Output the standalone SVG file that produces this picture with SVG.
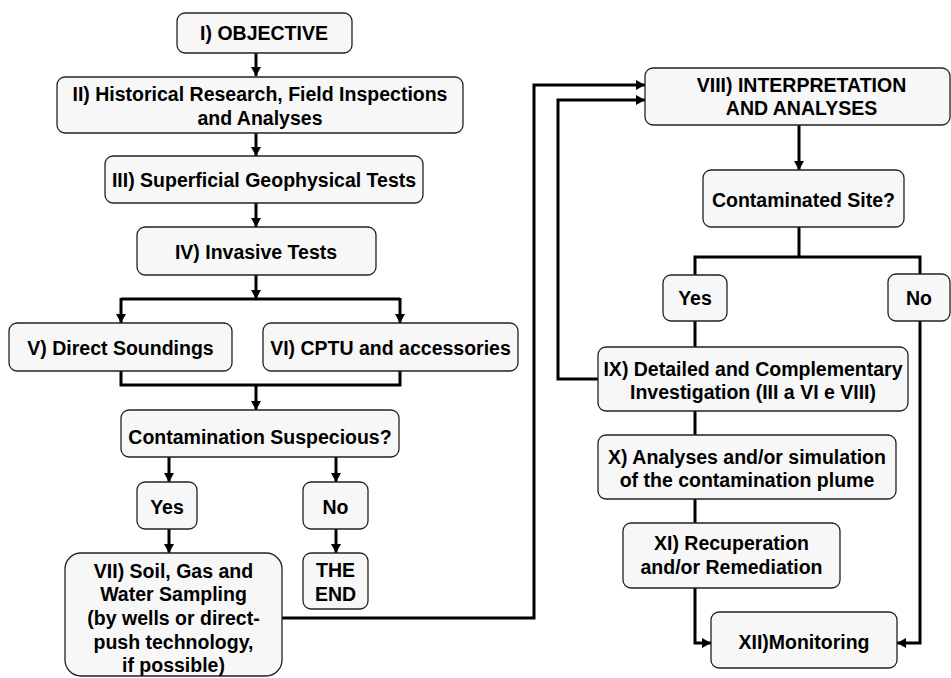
<svg xmlns="http://www.w3.org/2000/svg" width="951" height="678" viewBox="0 0 951 678">
<style>
.b{fill:#f7f7f7;stroke:#222;stroke-width:1.3}
.t{font-family:"Liberation Sans",Arial,sans-serif;font-weight:bold;font-size:19.5px;fill:#000;text-anchor:middle}
.c{fill:none;stroke:#000;stroke-width:3}
.a{marker-end:url(#ah)}
</style>
<defs>
<marker id="ah" viewBox="0 0 9 10" markerWidth="9" markerHeight="10" refX="9" refY="5" orient="auto" markerUnits="userSpaceOnUse">
<path d="M0,0 L9,5 L0,10 z" fill="#000"/>
</marker>
</defs>
<rect width="951" height="678" fill="#fff"/>
<g id="connectors">
<path class="c a" d="M256,53 V76"/>
<path class="c a" d="M256,133 V156"/>
<path class="c a" d="M256,203 V227"/>
<path class="c a" d="M256,275 V299"/>
<path class="c" d="M121,299 H400"/>
<path class="c a" d="M121,298 V323"/>
<path class="c a" d="M400,298 V323"/>
<path class="c" d="M121,371 V385 H400 V371"/>
<path class="c a" d="M256,385 V410"/>
<path class="c a" d="M169,457 V482"/>
<path class="c a" d="M336,457 V482"/>
<path class="c a" d="M169,529 V553"/>
<path class="c a" d="M336,529 V553"/>
<path class="c a" d="M282,618 H534 V85 H645"/>
<path class="c a" d="M598,379 H558 V100 H645"/>
<path class="c a" d="M799,125 V170"/>
<path class="c" d="M799,227 V257"/>
<path class="c" d="M695,275 V257 H920 V274"/>
<path class="c" d="M695,321 V347"/>
<path class="c a" d="M920,321 V643 H897"/>
<path class="c" d="M695,411 V435"/>
<path class="c" d="M695,499 V523"/>
<path class="c a" d="M695,588 V643 H711"/>
</g>
<g id="n1"><rect class="b" x="177" y="13" width="175" height="40" rx="8"/><text class="t" x="264" y="40">I) OBJECTIVE</text></g>
<g id="n2"><rect class="b" x="57" y="77" width="406" height="56" rx="8"/><text class="t" x="260" y="101">II) Historical Research, Field Inspections</text><text class="t" x="260" y="125">and Analyses</text></g>
<g id="n3"><rect class="b" x="105" y="156" width="318" height="47" rx="8"/><text class="t" x="264" y="187">III) Superficial Geophysical Tests</text></g>
<g id="n4"><rect class="b" x="137" y="227" width="239" height="48" rx="8"/><text class="t" x="256" y="259">IV) Invasive Tests</text></g>
<g id="n5"><rect class="b" x="9" y="323" width="223" height="48" rx="8"/><text class="t" x="120.5" y="355">V) Direct Soundings</text></g>
<g id="n6"><rect class="b" x="263" y="323" width="255" height="48" rx="8"/><text class="t" x="390.5" y="355">VI) CPTU and accessories</text></g>
<g id="n7"><rect class="b" x="121" y="410" width="278" height="47" rx="8"/><text class="t" x="260" y="444">Contamination Suspecious?</text></g>
<g id="n8"><rect class="b" x="137" y="482" width="60" height="47" rx="8"/><text class="t" x="167" y="514">Yes</text></g>
<g id="n9"><rect class="b" x="303" y="482" width="65" height="47" rx="8"/><text class="t" x="335.5" y="514">No</text></g>
<g id="n10"><rect class="b" x="65" y="553" width="217" height="123" rx="16"/><text class="t" x="173.5" y="578">VII) Soil, Gas and</text><text class="t" x="173.5" y="601">Water Sampling</text><text class="t" x="173.5" y="625">(by wells or direct-</text><text class="t" x="173.5" y="649">push technology,</text><text class="t" x="173.5" y="672">if possible)</text></g>
<g id="n11"><rect class="b" x="303" y="553" width="65" height="56" rx="8"/><text class="t" x="335.5" y="577">THE</text><text class="t" x="335.5" y="601">END</text></g>
<g id="n12"><rect class="b" x="645" y="68" width="305" height="57" rx="8"/><text class="t" x="801.5" y="92">VIII) INTERPRETATION</text><text class="t" x="801.5" y="115">AND ANALYSES</text></g>
<g id="n13"><rect class="b" x="703" y="170" width="201" height="57" rx="8"/><text class="t" x="803.5" y="207">Contaminated Site?</text></g>
<g id="n14"><rect class="b" x="663" y="275" width="64" height="46" rx="8"/><text class="t" x="695" y="305">Yes</text></g>
<g id="n15"><rect class="b" x="888" y="274" width="62" height="47" rx="8"/><text class="t" x="919" y="305">No</text></g>
<g id="n16"><rect class="b" x="598" y="347" width="310" height="64" rx="8"/><text class="t" x="753" y="376">IX) Detailed and Complementary</text><text class="t" x="753" y="399">Investigation (III a VI e VIII)</text></g>
<g id="n17"><rect class="b" x="598" y="435" width="298" height="64" rx="8"/><text class="t" x="747" y="464">X) Analyses and/or simulation</text><text class="t" x="747" y="487">of the contamination plume</text></g>
<g id="n18"><rect class="b" x="623" y="523" width="217" height="65" rx="8"/><text class="t" x="731.5" y="550">XI) Recuperation</text><text class="t" x="731.5" y="574">and/or Remediation</text></g>
<g id="n19"><rect class="b" x="711" y="612" width="186" height="56" rx="8"/><text class="t" x="804" y="649">XII)Monitoring</text></g>
</svg>
